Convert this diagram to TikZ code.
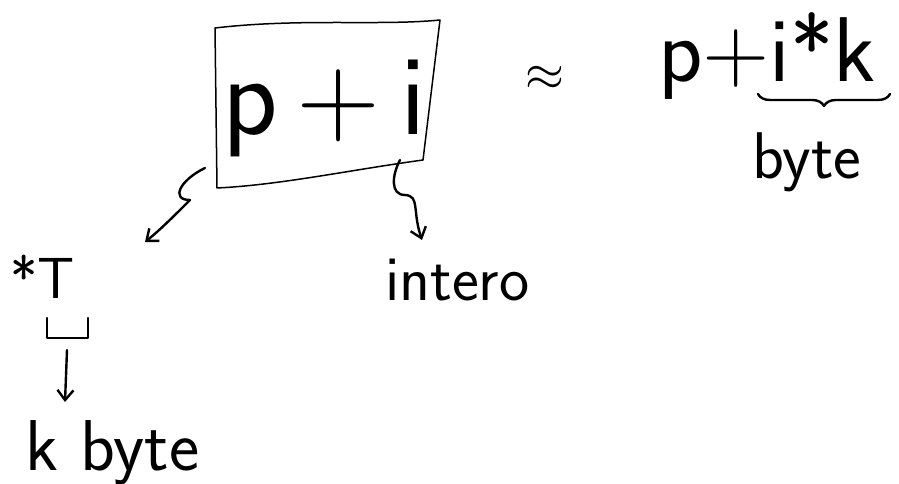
\documentclass[tikz,border=0pt]{standalone}
\usetikzlibrary{arrows.meta,decorations.pathreplacing}
\begin{document}
\begin{tikzpicture}[x=1pt,y=-1pt,
  ink/.style={draw=black,line width=2.4pt,line cap=round,line join=round},
  hand/.style={font=\sffamily\fontsize{#1}{#1}\selectfont,inner sep=0pt,anchor=base west},
  tip/.style={-{Straight Barb[length=10pt,width=16pt]}}]
\useasboundingbox (0,0) rectangle (899,484);
% box
\draw[ink,line width=1.5pt] (215,28) .. controls (300,18) and (380,26) .. (440,20)
  -- (423,160) .. controls (350,170) and (280,185) .. (217,188) -- cycle;
\node[hand=115] (pi) at (222,135) {p\,+\,i};
% approx
\node[inner sep=0pt] (ap) at (545,78) {\scalebox{5}{$\approx$}};
% p+i*k
\node[hand=92] (pik) at (658,82) {p+i*k};
\draw[ink,decorate,decoration={brace,mirror,amplitude=12pt}] (758,94) -- (890,94);
\node[hand=66] (byte1) at (752,178) {byte};
% *T
\node[hand=58] (T) at (10,298) {*T};
\draw[ink] (47,318) -- (47,338) -- (88,338) -- (88,318);
\coordinate (tb) at (67,338);
\node[hand=72] (kbyte) at (25,470) {k byte};
\draw[ink,tip] (67,350) -- (65,402);
% intero
\node[hand=64] (intero) at (385,300) {intero};
% arrows from box
\draw[ink,tip] (205,168) .. controls (180,180) and (170,200) .. (190,200)
  .. controls (175,215) and (160,230) .. (145,242);
\draw[ink,tip] (400,160) .. controls (392,175) and (390,195) .. (405,195)
  .. controls (420,196) and (412,210) .. (422,240);
\end{tikzpicture}
\end{document}
